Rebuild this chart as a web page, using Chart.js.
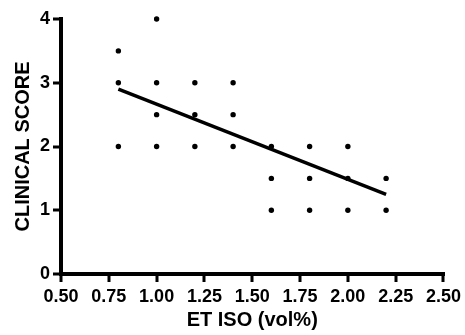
<!DOCTYPE html>
<html>
<head>
<meta charset="utf-8">
<script src="https://cdn.jsdelivr.net/npm/chart.js@4/dist/chart.umd.min.js"></script>
<style>
  html, body { margin: 0; padding: 0; background: #fff; }
  #wrap { width: 465px; height: 335px; }
</style>
</head>
<body>
<div id="wrap"><canvas id="c"></canvas></div>
<script>
// ET ISO (vol%) vs clinical score
const isoX   = [0.8, 0.8, 0.8, 1.0, 1.0, 1.0, 1.0, 1.2, 1.2, 1.2, 1.4, 1.4, 1.4, 1.6, 1.6, 1.6, 1.8, 1.8, 1.8, 2.0, 2.0, 2.0, 2.2, 2.2];
const scoreY = [2,   3,   3.5, 2,   2.5, 3,   4,   2,   2.5, 3,   2,   2.5, 3,   1,   1.5, 2,   1,   1.5, 2,   1,   1.5, 2,   1,   1.5];

// regression line end points
const fitX = [0.8, 2.2];
const fitY = [2.9, 1.25];

const xTicks = [0.5, 0.75, 1.0, 1.25, 1.5, 1.75, 2.0, 2.25, 2.5];
const yTicks = [0, 1, 2, 3, 4];

const tickFont  = { family: 'Liberation Sans, Arial, sans-serif', weight: 'bold', size: 18 };
const titleFont = { family: 'Liberation Sans, Arial, sans-serif', weight: 'bold', size: 20 };

// thick black axes with outward ticks, placed through the scales (filled rects)
const axesPlugin = {
    id: 'prismAxes',
    afterDraw(chart) {
        const ctx = chart.ctx;
        const xs = chart.scales.x, ys = chart.scales.y;
        const left = Math.round(xs.getPixelForValue(xTicks[0]));
        const right = Math.round(xs.getPixelForValue(xTicks[xTicks.length - 1]));
        const bottom = Math.round(ys.getPixelForValue(yTicks[0]));
        const top = Math.round(ys.getPixelForValue(yTicks[yTicks.length - 1]));
        ctx.save();
        ctx.fillStyle = '#000';
        ctx.fillRect(left - 2, top - 2, 4, bottom - top + 4);
        ctx.fillRect(left - 2, bottom - 2, right - left + 4, 4);
        xTicks.forEach(v => {
            const px = Math.round(xs.getPixelForValue(v));
            ctx.fillRect(px - 1.5, bottom, 3, 8);
        });
        yTicks.forEach(v => {
            const py = Math.round(ys.getPixelForValue(v));
            ctx.fillRect(left - 8, py - 1.5, 8, 3);
        });
        ctx.restore();
    }
};

new Chart(document.getElementById('c'), {
    type: 'scatter',
    data: {
        datasets: [
            {
                data: isoX.map((x, i) => ({ x: x, y: scoreY[i] })),
                backgroundColor: '#000',
                borderColor: '#000',
                borderWidth: 0,
                pointRadius: 2.7,
                pointHoverRadius: 2.7,
                clip: false
            },
            {
                type: 'line',
                data: fitX.map((x, i) => ({ x: x, y: fitY[i] })),
                borderColor: '#000',
                borderWidth: 3.5,
                pointRadius: 0,
                fill: false,
                clip: false
            }
        ]
    },
    options: {
        responsive: true,
        maintainAspectRatio: false,
        animation: false,
        layout: { padding: { top: 19, right: 18, left: 0, bottom: 0 } },
        plugins: { legend: { display: false }, tooltip: { enabled: false } },
        scales: {
            x: {
                type: 'linear',
                min: 0.5,
                max: 2.5,
                afterBuildTicks: axis => { axis.ticks = xTicks.map(v => ({ value: v })); },
                afterFit: axis => { axis.height = 61; },
                ticks: { color: '#000', font: tickFont, padding: 4, maxRotation: 0, callback: v => v.toFixed(2) },
                grid: { drawOnChartArea: false, tickLength: 8, color: 'rgba(0,0,0,0)' },
                border: { display: false },
                title: { display: true, text: 'ET ISO (vol%)', color: '#000', font: titleFont, padding: { top: 0, bottom: 3 } }
            },
            y: {
                min: 0,
                max: 4,
                afterBuildTicks: axis => { axis.ticks = yTicks.map(v => ({ value: v })); },
                afterFit: axis => { axis.width = 61; },
                ticks: { color: '#000', font: tickFont, padding: 3 },
                grid: { drawOnChartArea: false, tickLength: 8, color: 'rgba(0,0,0,0)' },
                border: { display: false },
                title: { display: true, text: 'CLINICAL SCORE', color: '#000', font: titleFont, padding: { top: 11, bottom: 0 } }
            }
        }
    },
    plugins: [axesPlugin]
});
</script>
</body>
</html>
